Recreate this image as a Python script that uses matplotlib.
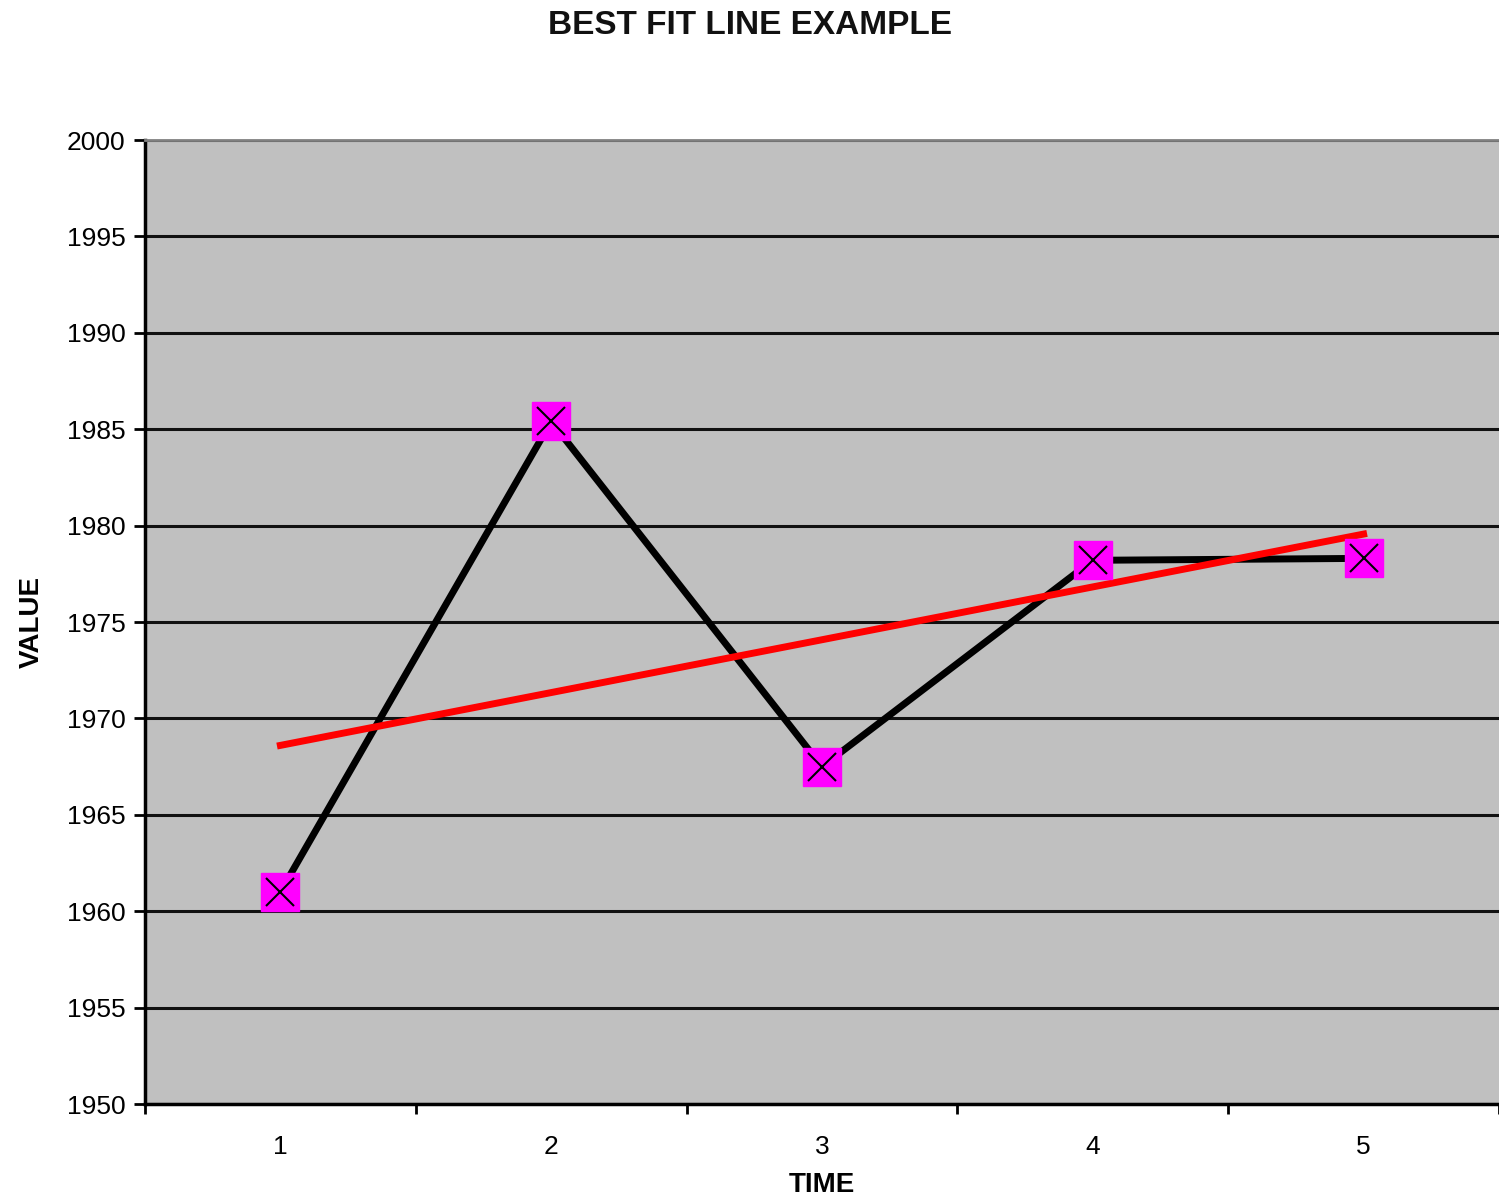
import numpy as np
import matplotlib
matplotlib.use("Agg")
import matplotlib.pyplot as plt
from matplotlib.ticker import FixedLocator, MultipleLocator

plt.rcParams['font.family'] = ['Liberation Sans', 'DejaVu Sans']

time = [1, 2, 3, 4, 5]
value = [1961.0, 1985.4, 1967.5, 1978.2, 1978.3]

# least squares trend line through the series
slope, intercept = np.polyfit(time, value, 1)
fit = [slope * t + intercept for t in time]

fig = plt.figure(figsize=(14.99, 12.02), dpi=100)
ax = fig.add_axes([145 / 1499, 1 - 1104 / 1202, 1 - 145 / 1499, (1104 - 140) / 1202])
ax.set_facecolor('#c0c0c0')

ax.set_xlim(0.5, 5.5)
ax.set_ylim(1950, 2000)

ax.yaxis.set_major_locator(MultipleLocator(5))
ax.grid(axis='y', color='#111111', lw=2.2, zorder=1)
ax.set_axisbelow(True)

ax.plot(time, value, color='black', lw=5, zorder=3)
ax.plot([time[0], time[-1]], [fit[0], fit[-1]], color='#ff0000', lw=5, zorder=4)
ax.plot(time, value, ls='none', marker='s', ms=27, mfc='#ff00ff', mec='#ff00ff', zorder=5)
ax.plot(time, value, ls='none', marker='x', ms=20, mew=1.5, color='black', zorder=6)

# category axis: labels at centres, ticks on the boundaries
ax.set_xticks(time)
ax.set_xticklabels([str(t) for t in time])
ax.xaxis.set_minor_locator(FixedLocator(np.arange(0.5, 6.0, 1.0)))
ax.tick_params(axis='x', which='major', length=0, pad=22, labelsize=19)
ax.tick_params(axis='x', which='minor', length=7, width=2, direction='out', color='black')
ax.tick_params(axis='y', length=8, width=2, direction='out', labelsize=19, pad=6)

for s in ['left', 'bottom']:
    ax.spines[s].set_color('black')
    ax.spines[s].set_linewidth(2.5)
ax.spines['top'].set_color('#808080')
ax.spines['top'].set_linewidth(2)
ax.spines['right'].set_visible(False)

ax.set_xlabel('TIME', fontsize=20, fontweight='bold', labelpad=10)
ax.set_ylabel('VALUE', fontsize=20, fontweight='bold', labelpad=16)
fig.text(0.5, 1 - 25 / 1202, 'BEST FIT LINE EXAMPLE', ha='center', va='center',
         fontsize=24, fontweight='bold', color='#111111')

fig.savefig('out.png', dpi=100)
